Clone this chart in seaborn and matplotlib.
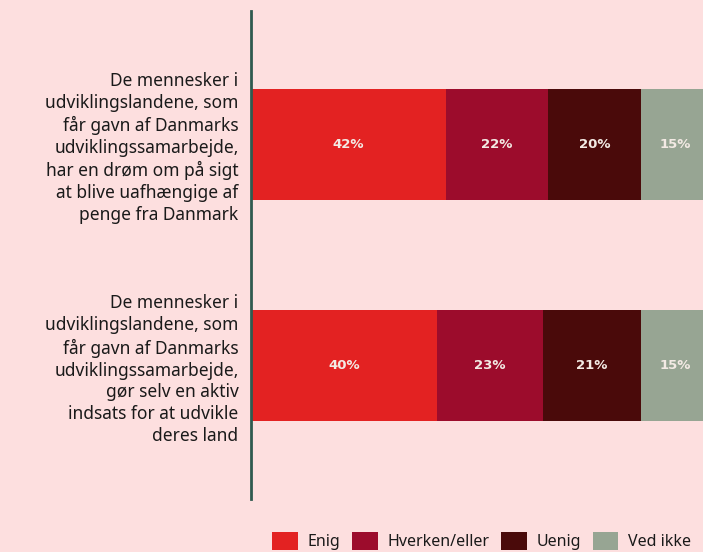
import matplotlib
matplotlib.use("Agg")
import matplotlib.pyplot as plt
import numpy as np
import pandas as pd
import seaborn as sns
from matplotlib.patches import Patch

# --------------------------- Data ---------------------------
questions = [
    "De mennesker i\nudviklingslandene, som\nfår gavn af Danmarks\nudviklingssamarbejde,\nhar en drøm om på sigt\nat blive uafhængige af\npenge fra Danmark",
    "De mennesker i\nudviklingslandene, som\nfår gavn af Danmarks\nudviklingssamarbejde,\ngør selv en aktiv\nindsats for at udvikle\nderes land",
]
answers = ["Enig", "Hverken/eller", "Uenig", "Ved ikke"]
enig = [42, 40]
hverken = [22, 23]
uenig = [20, 21]
ved_ikke = [15, 15]

colors = ["#E32222", "#9C0C2C", "#4A0A0A", "#97A593"]
bg = "#FDDFDF"

# --------------------------- Plot ---------------------------
sns.set_theme(style="white")
plt.rcParams["font.family"] = ["Noto Sans", "DejaVu Sans"]

values = np.array([enig, hverken, uenig, ved_ikke])
cums = values.cumsum(axis=0)

fig = plt.figure(figsize=(7.03, 5.52), dpi=100, facecolor=bg)
ax = fig.add_axes([251 / 703, 1 - 499 / 552, 1 - 251 / 703, (499 - 11) / 552])
ax.set_facecolor(bg)

# draw from the longest cumulative bar backwards so segments stack
for i in range(len(answers) - 1, -1, -1):
    df = pd.DataFrame({"q": questions, "v": cums[i]})
    sns.barplot(data=df, y="q", x="v", orient="h", color=colors[i],
                saturation=1, width=0.5, linewidth=0, edgecolor="none", ax=ax)

for i in range(len(answers)):
    for j in range(len(questions)):
        mid = cums[i][j] - values[i][j] / 2
        ax.text(mid, j, f"{values[i][j]}%", ha="center", va="center",
                color="#F3EAE4", fontsize=9.5, fontweight="bold",
                family=["DejaVu Sans"])

ax.set_xlim(0, 97.4)
ax.set_ylim(1.6, -0.6)
ax.set_xlabel("")
ax.set_ylabel("")
ax.set_xticks([])
ax.tick_params(axis="y", length=0, pad=9, labelsize=12.5, labelcolor="#1a1a1a")
for lbl in ax.get_yticklabels():
    lbl.set_horizontalalignment("right")
    lbl.set_linespacing(1.28)

for s in ["top", "right", "bottom"]:
    ax.spines[s].set_visible(False)
ax.spines["left"].set_color("#2F5A4F")
ax.spines["left"].set_linewidth(2)

handles = [Patch(facecolor=c, edgecolor="none", label=a) for c, a in zip(colors, answers)]
fig.legend(handles=handles, loc="center", bbox_to_anchor=(0.685, 0.02), ncol=4,
           frameon=False, fontsize=11.5, handlelength=1.6, handleheight=1.35,
           handletextpad=0.6, columnspacing=0.75, labelcolor="#1a1a1a")

fig.savefig("out.png", dpi=100, facecolor=bg)
